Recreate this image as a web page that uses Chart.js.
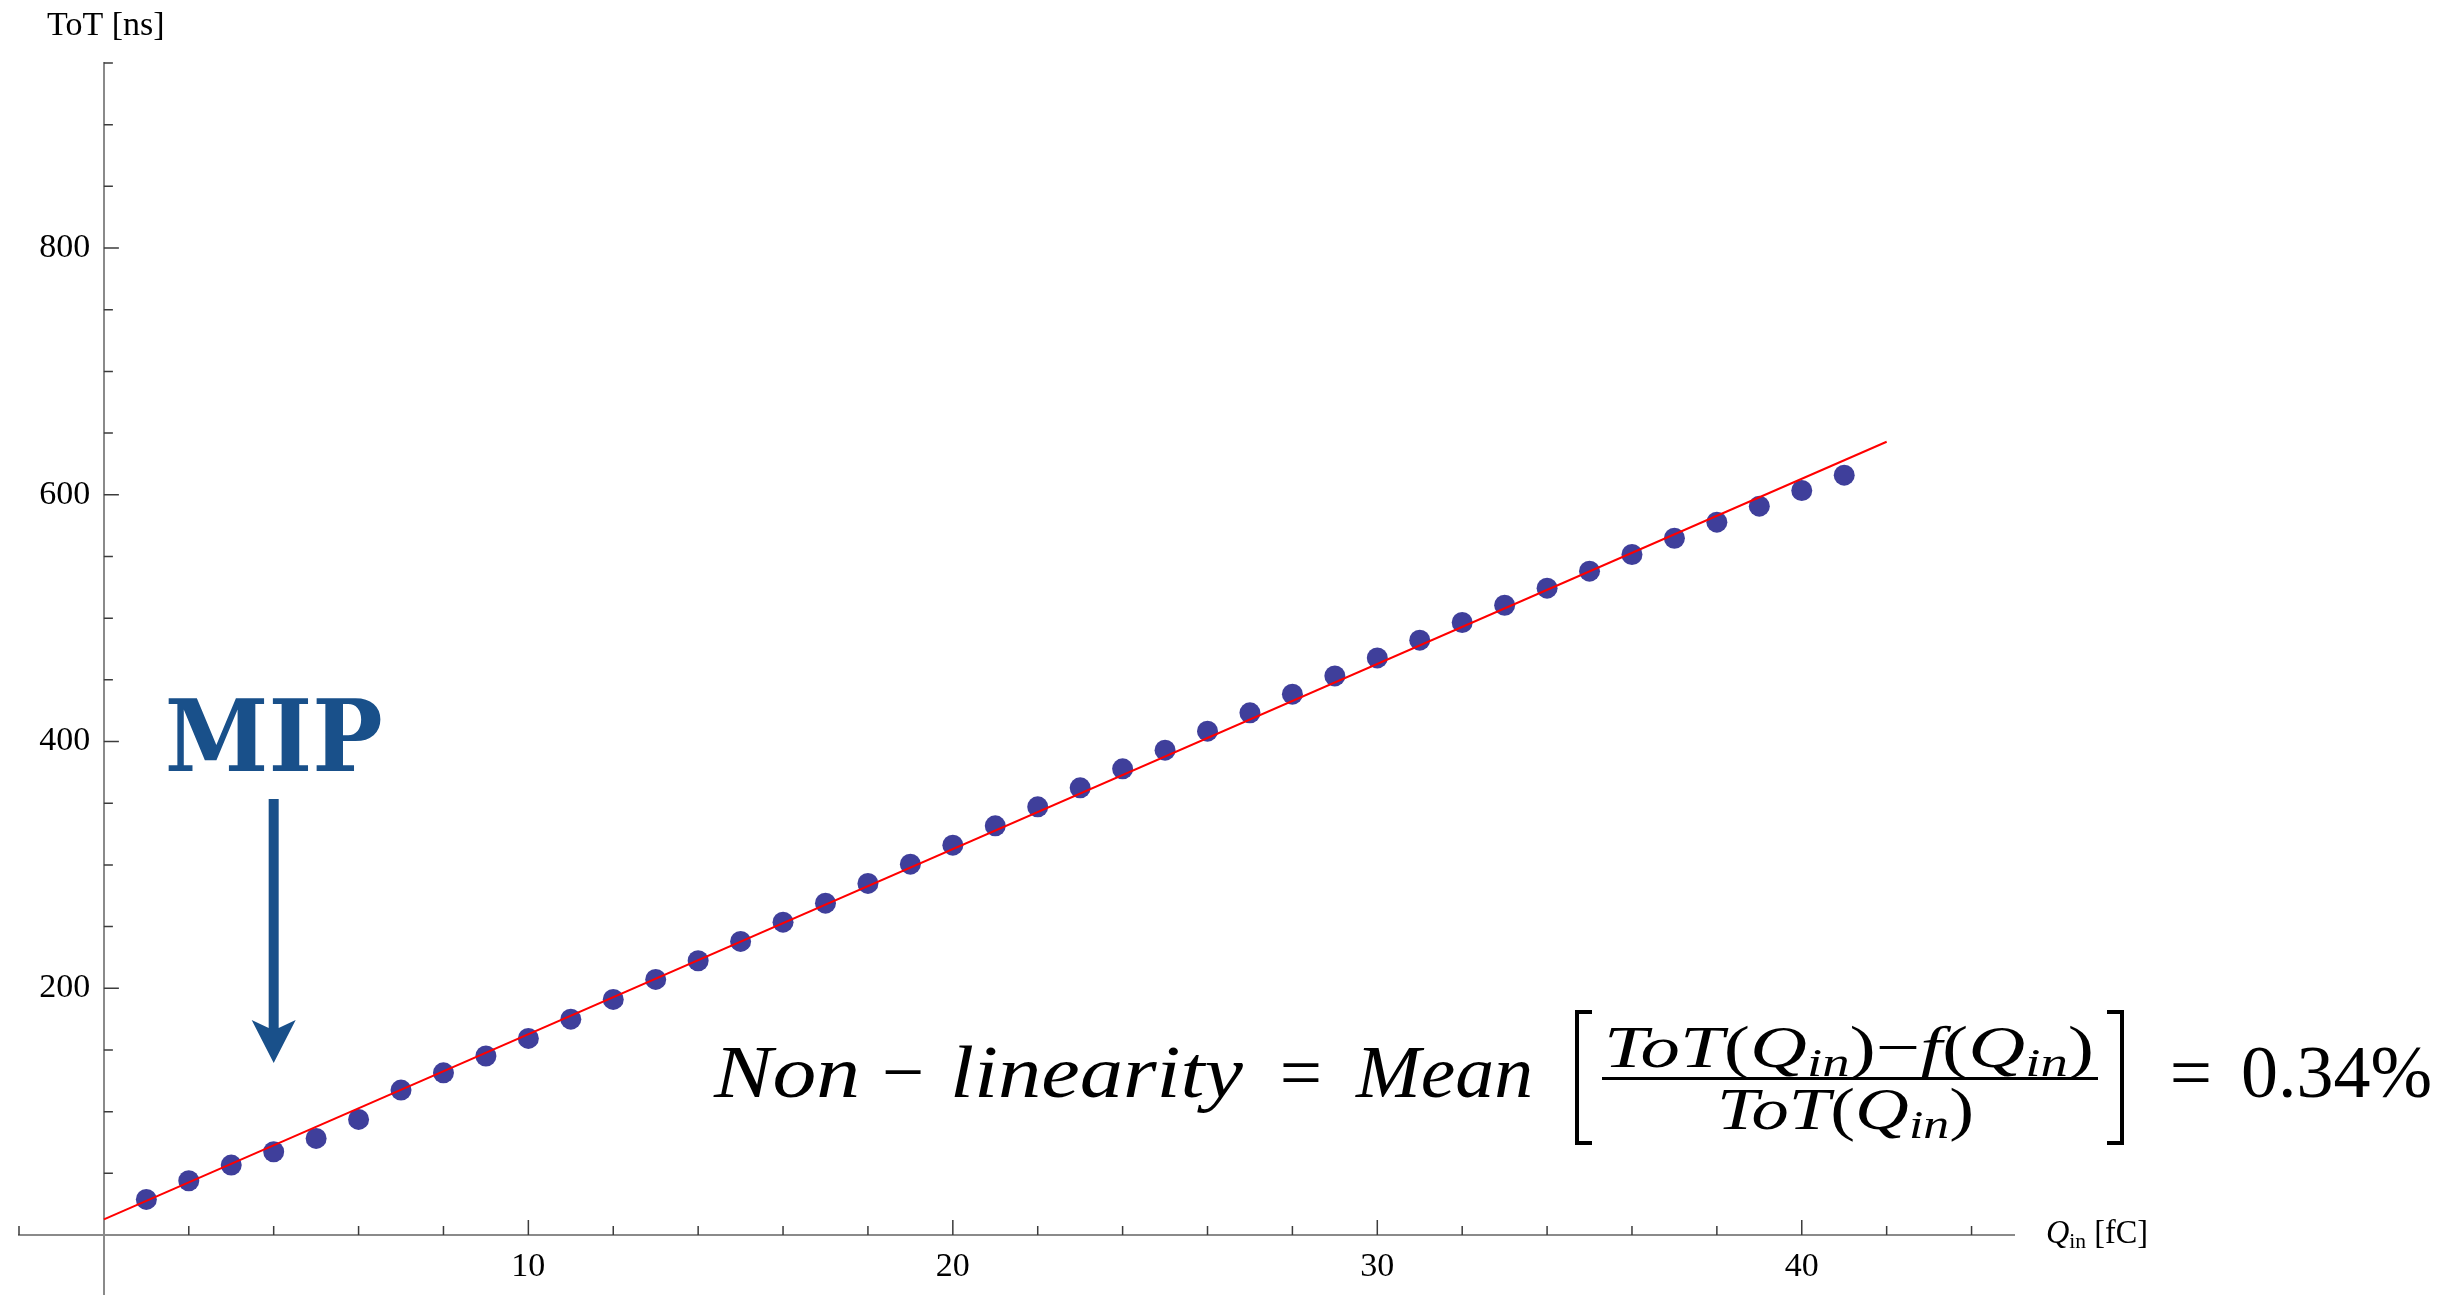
<!DOCTYPE html>
<html>
<head>
<meta charset="utf-8">
<script src="https://cdn.jsdelivr.net/npm/chart.js@4.4.1/dist/chart.umd.min.js"></script>
<style>
  html, body { margin: 0; padding: 0; background: #ffffff; }
  #wrap { width: 2447px; height: 1295px; position: relative; }
</style>
</head>
<body>
<div id="wrap"><canvas id="tot-chart"></canvas></div>
<script>
// injected charge [fC] and measured ToT [ns]
const qIn = [1, 2, 3, 4, 5, 6, 7, 8, 9, 10, 11, 12, 13, 14, 15, 16, 17, 18, 19, 20,
             21, 22, 23, 24, 25, 26, 27, 28, 29, 30, 31, 32, 33, 34, 35, 36, 37, 38, 39, 40, 41];
const tot = [28.9, 44.0, 56.7, 67.5, 78.3, 93.7, 117.5, 131.5, 145.1, 159.4,
             175.0, 191.0, 207.2, 222.3, 238.0, 253.6, 269.0, 285.0, 300.6, 316.0,
             331.7, 347.1, 362.5, 377.9, 393.0, 408.4, 423.3, 438.4, 453.2, 467.8,
             482.2, 496.5, 510.5, 524.3, 538.1, 551.6, 564.8, 577.8, 590.8, 603.5, 615.9];

// linear fit f(Q_in), end points
const fitQ = [0, 42];
const fitTot = [12.7, 643];

// axis ticks
const xMajorTicks = [10, 20, 30, 40];
const xMinorTicks = [-2, 2, 4, 6, 8, 12, 14, 16, 18, 22, 24, 26, 28, 32, 34, 36, 38, 42, 44];
const yMajorTicks = [200, 400, 600, 800];
const yMinorTicks = [50, 100, 150, 250, 300, 350, 450, 500, 550, 650, 700, 750, 850, 900, 950];

// MIP marker
const mipQ = 4;

const blue = '#19508a';
const axisGray = '#8a8a8a';

function fitText(ctx, text, font, left, baseline, width) {
    ctx.font = font;
    const w = ctx.measureText(text).width;
    ctx.save();
    ctx.translate(left, baseline);
    ctx.scale(width / w, 1);
    ctx.fillText(text, 0, 0);
    ctx.restore();
}

function centerText(ctx, text, font, cx, baseline) {
    ctx.font = font;
    const w = ctx.measureText(text).width;
    ctx.fillText(text, cx - w / 2, baseline);
}

function drawRuns(ctx, runs, left, baseline, width) {
    let total = 0;
    runs.forEach(r => { ctx.font = r.font; r.w = ctx.measureText(r.text).width; total += r.w; });
    ctx.save();
    ctx.translate(left, baseline);
    ctx.scale(width / total, 1);
    let x = 0;
    runs.forEach(r => { ctx.font = r.font; ctx.fillText(r.text, x, r.dy || 0); x += r.w; });
    ctx.restore();
}

function qRuns(big, small, dy) {
    return [
        {text: 'ToT', font: 'italic ' + big},
        {text: '(', font: big},
        {text: 'Q', font: 'italic ' + big},
        {text: 'in', font: 'italic ' + small, dy: dy},
        {text: ')', font: big}
    ];
}

const decorPlugin = {
    id: 'decor',
    afterDraw(chart) {
        const ctx = chart.ctx;
        const xs = chart.scales.x;
        const ys = chart.scales.y;
        const x0 = xs.getPixelForValue(0);
        const y0 = ys.getPixelForValue(0);

        ctx.save();
        // tick marks
        ctx.strokeStyle = '#3c3c3c';
        ctx.lineWidth = 1.5;
        ctx.beginPath();
        xMinorTicks.forEach(v => { const p = xs.getPixelForValue(v); ctx.moveTo(p, y0); ctx.lineTo(p, y0 - 9); });
        xMajorTicks.forEach(v => { const p = xs.getPixelForValue(v); ctx.moveTo(p, y0); ctx.lineTo(p, y0 - 15); });
        yMinorTicks.forEach(v => { const p = ys.getPixelForValue(v); ctx.moveTo(x0, p); ctx.lineTo(x0 + 9, p); });
        yMajorTicks.forEach(v => { const p = ys.getPixelForValue(v); ctx.moveTo(x0, p); ctx.lineTo(x0 + 15, p); });
        ctx.stroke();

        // axis titles
        ctx.fillStyle = '#000000';
        ctx.textAlign = 'left';
        ctx.textBaseline = 'alphabetic';
        ctx.font = '34px "Liberation Serif"';
        ctx.fillText('ToT [ns]', 47, 35);
        drawRuns(ctx, [
            {text: 'Q', font: 'italic 33px "Liberation Serif"'},
            {text: 'in', font: '22px "Liberation Serif"', dy: 5},
            {text: ' [fC]', font: '33px "Liberation Serif"'}
        ], 2046, 1243, 102);

        // MIP label and arrow
        const cx = xs.getPixelForValue(mipQ);
        ctx.fillStyle = blue;
        ctx.font = 'bold 99px "DejaVu Serif"';
        const mw = ctx.measureText('MIP').width;
        ctx.save();
        ctx.translate(cx - 109, 771);
        ctx.scale(218 / mw, 1);
        ctx.fillText('MIP', 0, 0);
        ctx.restore();

        ctx.beginPath();
        ctx.moveTo(cx, 1063);
        ctx.lineTo(cx - 22, 1020);
        ctx.lineTo(cx - 5, 1028);
        ctx.lineTo(cx - 5, 799);
        ctx.lineTo(cx + 5, 799);
        ctx.lineTo(cx + 5, 1028);
        ctx.lineTo(cx + 22, 1020);
        ctx.closePath();
        ctx.fill();

        // non-linearity formula
        ctx.fillStyle = '#000000';
        const IT = 'italic 75px "Liberation Serif"';
        const UP = '75px "Liberation Serif"';
        fitText(ctx, 'Non', IT, 714, 1097, 146);
        centerText(ctx, '\u2212', UP, 903, 1097);
        fitText(ctx, 'linearity', IT, 950, 1097, 293);
        centerText(ctx, '=', UP, 1301, 1097);
        fitText(ctx, 'Mean', IT, 1356, 1097, 177);

        const big = '59px "Liberation Serif"';
        const small = '41px "Liberation Serif"';
        const num = qRuns(big, small, 9).concat([{text: '\u2212', font: big}, {text: 'f', font: 'italic ' + big}])
            .concat(qRuns(big, small, 9).slice(1));
        drawRuns(ctx, num, 1604, 1067, 490);
        drawRuns(ctx, qRuns(big, small, 9), 1717, 1129, 257);

        ctx.fillRect(1602, 1077, 496, 3);

        // brackets
        ctx.lineWidth = 4;
        ctx.strokeStyle = '#000000';
        ctx.beginPath();
        ctx.moveTo(1592, 1012); ctx.lineTo(1577, 1012); ctx.lineTo(1577, 1143); ctx.lineTo(1592, 1143);
        ctx.moveTo(2107, 1012); ctx.lineTo(2122, 1012); ctx.lineTo(2122, 1143); ctx.lineTo(2107, 1143);
        ctx.stroke();

        centerText(ctx, '=', UP, 2191, 1097);
        fitText(ctx, '0.34%', UP, 2241, 1097, 191);
        ctx.restore();
    }
};

document.addEventListener('DOMContentLoaded', function() {
    const canvas = document.getElementById('tot-chart');
    const zeroSize = function(scale) {
        if (scale.isHorizontal()) { scale.height = 0; } else { scale.width = 0; }
        scale.paddingTop = 0; scale.paddingBottom = 0;
        scale.paddingLeft = 0; scale.paddingRight = 0;
    };

    new Chart(canvas.getContext('2d'), {
        type: 'scatter',
        data: {
            datasets: [{
                label: 'fit',
                data: fitQ.map((q, i) => ({x: q, y: fitTot[i]})),
                showLine: true,
                borderColor: '#ff0000',
                borderWidth: 2,
                pointRadius: 0,
                order: 0
            }, {
                label: 'ToT',
                data: qIn.map((q, i) => ({x: q, y: tot[i]})),
                backgroundColor: '#3f3f9b',
                borderColor: '#3f3f9b',
                borderWidth: 0,
                pointRadius: 10.5,
                order: 1
            }]
        },
        options: {
            responsive: true,
            maintainAspectRatio: false,
            devicePixelRatio: 1,
            animation: false,
            layout: { autoPadding: false, padding: { left: 19, right: 433, top: 63, bottom: 0 } },
            plugins: {
                legend: { display: false },
                tooltip: { enabled: false }
            },
            scales: {
                x: {
                    type: 'linear',
                    min: -2,
                    max: 45,
                    position: { y: 0 },
                    border: { display: true, color: axisGray, width: 2 },
                    grid: { display: true, drawOnChartArea: false, drawTicks: false },
                    afterBuildTicks: function(scale) { scale.ticks = xMajorTicks.map(v => ({value: v})); },
                    afterFit: zeroSize,
                    ticks: {
                        autoSkip: false,
                        maxRotation: 0,
                        padding: 12,
                        color: '#000000',
                        font: { family: '"Liberation Serif"', size: 34 },
                        callback: function(value) { return String(value); }
                    }
                },
                y: {
                    type: 'linear',
                    min: -48.6,
                    max: 950,
                    position: { x: 0 },
                    border: { display: true, color: axisGray, width: 2 },
                    grid: { display: true, drawOnChartArea: false, drawTicks: false },
                    afterBuildTicks: function(scale) { scale.ticks = yMajorTicks.map(v => ({value: v})); },
                    afterFit: zeroSize,
                    ticks: {
                        autoSkip: false,
                        padding: 12,
                        color: '#000000',
                        font: { family: '"Liberation Serif"', size: 34 },
                        callback: function(value) { return value + '\u2009\u2009'; }
                    }
                }
            }
        },
        plugins: [decorPlugin]
    });
});
</script>
</body>
</html>
